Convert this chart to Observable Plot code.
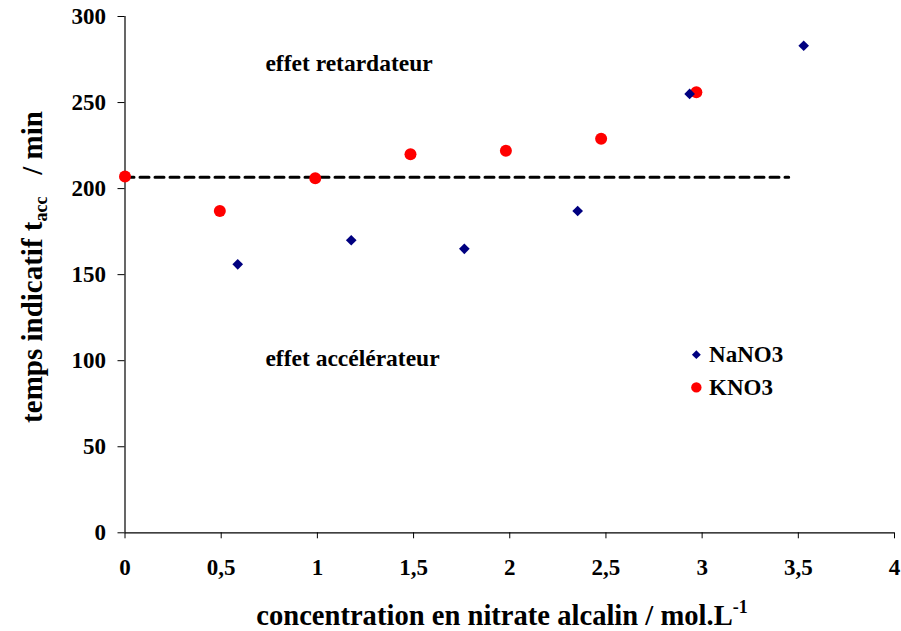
<!DOCTYPE html>
<html><head><meta charset="utf-8">
<script src="https://cdn.jsdelivr.net/npm/d3@7"></script>
<script src="https://cdn.jsdelivr.net/npm/@observablehq/plot@0.6"></script>
<style>
body{margin:0;background:#fff;}
</style>
</head><body><div id="chart"></div>
<script>
// Data
const nanoX = [0.586, 1.176, 1.764, 2.353, 2.935, 3.528];
const nanoY = [156, 170, 165, 187, 255, 283];
const knoX = [0, 0.493, 0.989, 1.484, 1.98, 2.475, 2.97];
const knoY = [207, 187, 206, 220, 222, 229, 256];
const refX = [0, 3.45];
const refY = [206.6, 206.6];
const xTicks = [0, 0.5, 1, 1.5, 2, 2.5, 3, 3.5, 4];
const yTicks = [0, 50, 100, 150, 200, 250, 300];
const notes = [
  {x: 0.73, y: 272.6, text: "effet retardateur"},
  {x: 0.73, y: 101.2, text: "effet accélérateur"}
];
const legendNa = [{x: 2.97, y: 103.5, label: "NaNO3"}];
const legendK = [{x: 2.97, y: 84.5, label: "KNO3"}];

const FONT = "Liberation Serif";
const nano = nanoX.map((x, i) => ({x, y: nanoY[i]}));
const kno = knoX.map((x, i) => ({x, y: knoY[i]}));
const ref = refX.map((x, i) => ({x, y: refY[i]}));
const comma = d => String(d).replace(".", ",");

const plot = Plot.plot({
  width: 901, height: 631,
  marginLeft: 124.5, marginRight: 7, marginTop: 16, marginBottom: 98.7,
  x: {domain: [0, 4]},
  y: {domain: [0, 300]},
  style: {fontFamily: FONT, background: "#fff"},
  marks: [
    Plot.axisX({ticks: xTicks, tickFormat: comma, tickSize: 6, tickPadding: 20, fontSize: 23, fontWeight: "bold", fontFamily: FONT, label: null, stroke: "#000", color: "#000"}),
    Plot.axisY({ticks: yTicks, tickSize: 7, tickPadding: 12, fontSize: 23, fontWeight: "bold", fontFamily: FONT, label: null, color: "#000"}),
    Plot.ruleY([0], {stroke: "#000", strokeWidth: 1.2}),
    Plot.ruleX([0], {stroke: "#000", strokeWidth: 1.2}),
    Plot.line(ref, {x: "x", y: "y", stroke: "#000", strokeWidth: 3, strokeDasharray: "9,6"}),
    Plot.dot(kno, {x: "x", y: "y", r: 6, fill: "#ff0000", symbol: "circle"}),
    Plot.dot(nano, {x: "x", y: "y", r: 4.8, fill: "#000080", symbol: "diamond2"}),
    Plot.text(notes, {x: "x", y: "y", text: "text", textAnchor: "start", fontSize: 23.5, fontWeight: "bold", fontFamily: FONT, fill: "#000"}),
    Plot.dot(legendNa, {x: "x", y: "y", r: 4, fill: "#000080", symbol: "diamond2"}),
    Plot.dot(legendK, {x: "x", y: "y", r: 5.2, fill: "#ff0000", symbol: "circle"}),
    Plot.text([...legendNa, ...legendK], {x: "x", y: "y", text: "label", textAnchor: "start", dx: 12.7, fontSize: 23, fontWeight: "bold", fontFamily: FONT, fill: "#000"})
  ]
});
document.getElementById("chart").appendChild(plot);

const svg = d3.select(plot);
// X axis title
const xt = svg.append("text")
  .attr("x", 502).attr("y", 625)
  .attr("text-anchor", "middle")
  .attr("font-family", FONT)
  .attr("font-size", 28.6).attr("font-weight", "bold").attr("fill", "#000");
xt.append("tspan").text("concentration en nitrate alcalin / mol.L");
xt.append("tspan").attr("dy", -12).attr("font-size", 18).text("-1");

// Y axis title
const yt = svg.append("text")
  .attr("transform", "translate(42,267) rotate(-90)")
  .attr("text-anchor", "middle")
  .attr("font-family", FONT)
  .attr("font-size", 29).attr("font-weight", "bold").attr("fill", "#000")
  .attr("xml:space", "preserve");
yt.append("tspan").text("temps indicatif t");
yt.append("tspan").attr("dy", 5).attr("font-size", 18).text("acc");
yt.append("tspan").attr("dy", -5).text("   / min");
</script>
</body></html>
